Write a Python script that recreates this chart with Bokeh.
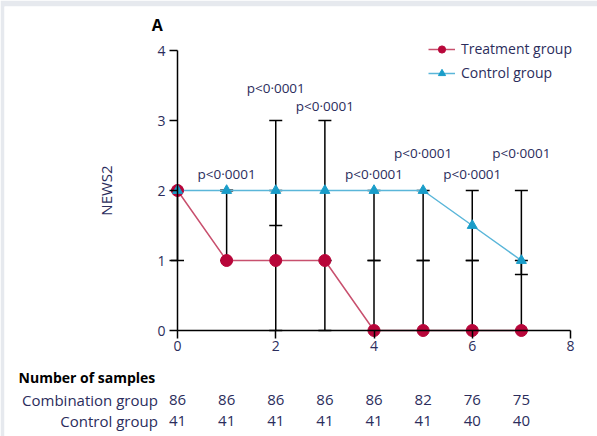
from bokeh.plotting import figure
from bokeh.models import ColumnDataSource, Whisker, TeeHead, Range1d, Legend, LegendItem, FixedTicker
from bokeh.core.properties import value
from bokeh.embed import file_html
from bokeh.resources import INLINE

days = [0, 1, 2, 3, 4, 5, 6, 7]
treat_median = [2, 1, 1, 1, 0, 0, 0, 0]
ctrl_median = [2, 2, 2, 2, 2, 2, 1.5, 1]
treat_lower = [1, 1, 0, 0, 0, 0, 0, 0]
treat_upper = [2, 2, 2, 1, 1, 1, 1, 1]
ctrl_lower = [2, 2, 1.5, 1, 1, 1, 1, 0.8]
ctrl_upper = [2, 2, 3, 3, 2, 2, 2, 2]
p_days = [1, 2, 3, 4, 5, 6, 7]
p_labels = ["p<0·0001"] * 7
combo_n = [86, 86, 86, 86, 86, 82, 76, 75]
control_n = [41, 41, 41, 41, 41, 41, 40, 40]

# layout offsets for p-value labels (above upper whisker)
p_offsets = [0.24, 0.47, 0.21, 0.23, 0.53, 0.23, 0.53]

NAVY = "#2b2d5c"
RED = "#b8063a"
RED_LINE = "#c8506e"
BLUE = "#1a9dc9"
BLUE_LINE = "#5ab6d9"
FONT = "Open Sans"

W, H = 597, 436
PXX, PXY = 49.125, 70.0
p = figure(width=W, height=H, output_backend="svg", toolbar_location=None,
           x_range=Range1d((4 - 177) / PXX, (W - 177) / PXX),
           y_range=Range1d(-(H - 330) / PXY, (330 - 6) / PXY),
           min_border=0, min_border_left=4, min_border_top=6, outline_line_color=None)
p.grid.visible = False
p.background_fill_color = "white"
p.border_fill_color = "#e6e9ee"

for ax in (p.xaxis, p.yaxis):
    ax.fixed_location = 0
    ax.axis_line_color = "black"
    ax.axis_line_width = 1.5
    ax.major_tick_line_color = "black"
    ax.major_tick_line_width = 1.5
    ax.major_tick_in = 0
    ax.major_tick_out = 8
    ax.minor_tick_line_color = None
    ax.major_label_text_color = NAVY
    ax.major_label_text_font = FONT
    ax.major_label_text_font_size = "14px"
p.yaxis.major_label_standoff = 4
p.xaxis.major_label_standoff = 2
p.xaxis.bounds = (0, 8)
p.yaxis.bounds = (0, 4)
p.xaxis.ticker = FixedTicker(ticks=[0, 2, 4, 6, 8])
p.yaxis.ticker = FixedTicker(ticks=[0, 1, 2, 3, 4])
p.yaxis.axis_label = "NEWS2"
p.yaxis.axis_label_standoff = 38
p.yaxis.axis_label_text_font = FONT
p.yaxis.axis_label_text_font_style = "normal"
p.yaxis.axis_label_text_font_size = "15px"
p.yaxis.axis_label_text_color = NAVY

src = ColumnDataSource(dict(day=days, tm=treat_median, cm=ctrl_median,
                            tl=treat_lower, tu=treat_upper, cl=ctrl_lower, cu=ctrl_upper,
                            cn=[str(v) for v in combo_n], ctn=[str(v) for v in control_n]))

for lo, hi in (("tl", "tu"), ("cl", "cu")):
    w = Whisker(base="day", lower=lo, upper=hi, source=src, dimension="height",
                line_color="black", line_width=1.5, level="underlay",
                upper_head=TeeHead(size=13, line_color="black", line_width=1.5),
                lower_head=TeeHead(size=13, line_color="black", line_width=1.5))
    p.add_layout(w)

l1 = p.line("day", "tm", source=src, line_color=RED_LINE, line_width=1.5)
l2 = p.line("day", "cm", source=src, line_color=BLUE_LINE, line_width=1.5)
s1 = p.scatter("day", "tm", source=src, marker="circle", size=12, fill_color=RED, line_color=RED)
s2 = p.scatter("day", "cm", source=src, marker="triangle", size=10, fill_color=BLUE, line_color=BLUE)

# p-value labels
p_y = [ctrl_upper[d] + o for d, o in zip(p_days, p_offsets)]
p.text(x=p_days, y=p_y, text=p_labels, text_align="center", text_baseline="middle",
       text_font=value(FONT), text_font_size="13.5px", text_color=NAVY)

# panel letter
p.text(x=[-0.41], y=[4.37], text=["A"], text_align="center", text_baseline="middle",
       text_font=value(FONT), text_font_size="16px", text_font_style="bold", text_color="black")

# sample size table
p.text(x=[-3.235], y=[-0.67], text=["Number of samples"], text_align="left", text_baseline="middle",
       text_font=value(FONT), text_font_size="14px", text_font_style="bold", text_color="black")
p.text(x=[-0.4, -0.4], y=[-0.986, -1.286], text=["Combination group", "Control group"],
       text_align="right", text_baseline="middle",
       text_font=value(FONT), text_font_size="15px", text_color=NAVY)
p.text(x="day", y=-0.986, text="cn", source=src, text_align="center", text_baseline="middle",
       text_font=value(FONT), text_font_size="15px", text_color=NAVY)
p.text(x="day", y=-1.286, text="ctn", source=src, text_align="center", text_baseline="middle",
       text_font=value(FONT), text_font_size="15px", text_color=NAVY)

legend = Legend(items=[LegendItem(label="Treatment group", renderers=[l1, s1]),
                       LegendItem(label="Control group", renderers=[l2, s2])],
                location=(424, H - 82), border_line_color=None, background_fill_alpha=0,
                label_text_font=FONT, label_text_font_size="14px", label_text_color=NAVY,
                glyph_width=27, glyph_height=18, spacing=5, padding=0, margin=0,
                label_standoff=6)
p.add_layout(legend)

open("out.html", "w").write(file_html(p, INLINE))
